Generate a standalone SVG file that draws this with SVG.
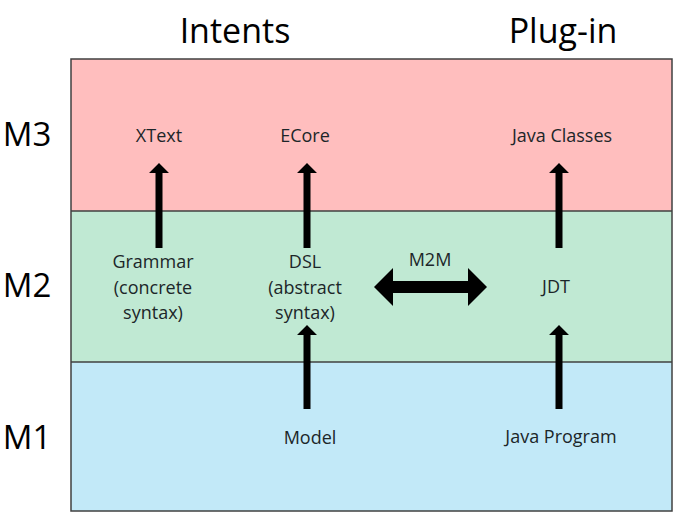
<svg xmlns="http://www.w3.org/2000/svg" width="677" height="514" viewBox="0 0 677 514">
<style>
.t{font-family:"Open Sans","Liberation Sans",sans-serif;fill:#1c2629;text-anchor:middle}
.lbl{font-size:18px}
.big{font-size:34px;fill:#000}
.lev{font-size:33px;fill:#000}
.arr{fill:#000}
</style>
<rect width="677" height="514" fill="#fff"/>
<g id="bands">
<rect x="71" y="59" width="601" height="152" fill="#ffbebe"/>
<rect x="71" y="211" width="601" height="151" fill="#c0e9d3"/>
<rect x="71" y="362" width="601" height="149" fill="#c2e9f8"/>
<g fill="none" stroke="#404040" stroke-width="1.5">
<rect x="71" y="59" width="601" height="452"/>
<line x1="71" y1="211" x2="672" y2="211"/>
<line x1="71" y1="362" x2="672" y2="362"/>
</g>
</g>
<g id="headers">
<text class="t big" x="235" y="43">Intents</text>
<text class="t big" x="563" y="43">Plug-in</text>
<text class="t lev" x="27" y="146">M3</text>
<text class="t lev" x="27" y="297">M2</text>
<text class="t lev" x="27" y="449">M1</text>
</g>
<g id="xtext"><text class="t lbl" x="159" y="142">XText</text></g>
<g id="ecore"><text class="t lbl" x="305" y="142">ECore</text></g>
<g id="javaclasses"><text class="t lbl" x="562" y="142">Java Classes</text></g>
<g id="grammar"><text class="t lbl" x="153" y="268">Grammar<tspan x="153" dy="25.5">(concrete</tspan><tspan x="153" dy="25.5">syntax)</tspan></text></g>
<g id="dsl"><text class="t lbl" x="305" y="268">DSL<tspan x="305" dy="25.5">(abstract</tspan><tspan x="305" dy="25.5">syntax)</tspan></text></g>
<g id="jdt"><text class="t lbl" x="556" y="293">JDT</text></g>
<g id="model"><text class="t lbl" x="310" y="444">Model</text></g>
<g id="javaprogram"><text class="t lbl" x="561" y="443">Java Program</text></g>
<g id="connectors">
<polygon class="arr" points="155.5,248 155.5,173 149,173 159,163 169,173 162.5,173 162.5,248"/>
<polygon class="arr" points="303.5,248 303.5,173 297,173 307,163 317,173 310.5,173 310.5,248"/>
<polygon class="arr" points="555.5,248 555.5,173 549,173 559,163 569,173 562.5,173 562.5,248"/>
<polygon class="arr" points="303.5,409 303.5,335 297,335 307,325 317,335 310.5,335 310.5,409"/>
<polygon class="arr" points="555.5,409 555.5,335 549,335 559,325 569,335 562.5,335 562.5,409"/>
<polygon class="arr" points="374,287 393,268 393,281 468,281 468,268 487,287 468,306 468,293 393,293 393,306"/>
<text class="t lbl" x="430" y="266">M2M</text>
</g>
</svg>
